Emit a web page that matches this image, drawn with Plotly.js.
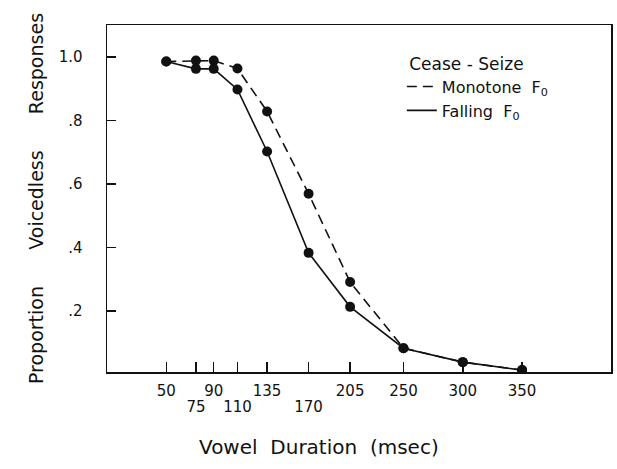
<!DOCTYPE html>
<html>
<head>
<meta charset="utf-8">
<script src="https://cdn.plot.ly/plotly-3.0.1.min.js"></script>
<style>
  html, body { margin: 0; padding: 0; background: #fff; }
  #chart { width: 617px; height: 469px; }
</style>
</head>
<body>
<div id="chart"></div>
<script>
// Vowel duration (msec) of each stimulus
const durations = [50, 75, 90, 110, 135, 170, 205, 250, 300, 350];
// Proportion of voiceless responses
const monotoneF0 = [0.985, 0.988, 0.988, 0.963, 0.828, 0.569, 0.291, 0.083, 0.039, 0.014];
const fallingF0  = [0.985, 0.962, 0.962, 0.897, 0.702, 0.383, 0.213, 0.083, 0.039, 0.014];

// Tick labels (staggered on two rows)
const xLabelsRow1 = [50, 90, 135, 205, 250, 300, 350];
const xLabelsRow2 = [75, 110, 170];
const yTickVals = [0.2, 0.4, 0.6, 0.8, 1.0];
const yTickText = ['.2', '.4', '.6', '.8', '1.0'];

const legendTitle = 'Cease - Seize';
const seriesNames = ['Monotone\u00A0\u00A0F<sub>0</sub>', 'Falling\u00A0\u00A0F<sub>0</sub>'];
const xTitle = 'Vowel\u00A0\u00A0Duration\u00A0\u00A0(msec)';
const GAP = '\u00A0'.repeat(6);
const yTitle = 'Proportion' + GAP + 'Voicedless' + GAP + 'Responses';

const FONT = 'DejaVu Sans, Liberation Sans, sans-serif';
const INK = '#111';

const traces = [
  {
    x: durations, y: monotoneF0, mode: 'lines+markers', xaxis: 'x', yaxis: 'y',
    line: {color: INK, width: 1.6, dash: '10px,6px'},
    marker: {color: INK, size: 10}, showlegend: false, name: seriesNames[0]
  },
  {
    x: durations, y: fallingF0, mode: 'lines+markers', xaxis: 'x2', yaxis: 'y',
    line: {color: INK, width: 1.6},
    marker: {color: INK, size: 10}, showlegend: false, name: seriesNames[1]
  },
  // legend keys (line samples only)
  { x: [null], y: [null], mode: 'lines', name: seriesNames[0],
    line: {color: INK, width: 1.6, dash: '10px,6px'} },
  { x: [null], y: [null], mode: 'lines', name: seriesNames[1],
    line: {color: INK, width: 1.6} }
];

const layout = {
  width: 617, height: 469,
  margin: {l: 107, r: 6, t: 25, b: 97},
  paper_bgcolor: '#fff', plot_bgcolor: '#fff',
  font: {family: FONT, color: INK, size: 15},
  xaxis: {
    range: [0, 425], showgrid: false, zeroline: false,
    showline: true, mirror: true, linecolor: INK, linewidth: 1.5,
    tickmode: 'array', tickvals: xLabelsRow1, ticktext: xLabelsRow1.map(String),
    ticks: 'inside', ticklen: 10, tickwidth: 1.5, tickcolor: INK,
    ticklabelstandoff: 4,
    tickfont: {size: 15, family: FONT, color: INK}
  },
  xaxis2: {
    overlaying: 'x', matches: 'x', anchor: 'y', side: 'bottom',
    range: [0, 425], showgrid: false, zeroline: false, showline: false,
    tickmode: 'array', tickvals: xLabelsRow2, ticktext: xLabelsRow2.map(String),
    ticks: 'inside', ticklen: 10, tickwidth: 1.5, tickcolor: INK,
    ticklabelstandoff: 24,
    tickfont: {size: 15, family: FONT, color: INK}
  },
  yaxis: {
    range: [0.008, 1.10], showgrid: false, zeroline: false,
    showline: true, mirror: true, linecolor: INK, linewidth: 1.5,
    tickmode: 'array', tickvals: yTickVals, ticktext: yTickText,
    ticks: 'inside', ticklen: 9, tickwidth: 1.5, tickcolor: INK,
    ticklabelstandoff: 20,
    tickfont: {size: 15, family: FONT, color: INK},
    title: {text: yTitle, font: {size: 19, family: FONT, color: INK}, standoff: 10}
  },
  legend: {
    x: 0.585, y: 0.935, xanchor: 'left', yanchor: 'top',
    bgcolor: 'rgba(0,0,0,0)', borderwidth: 0, tracegroupgap: 0,
    font: {size: 16, family: FONT, color: INK},
    title: {text: '\u00A0' + legendTitle, font: {size: 17, family: FONT, color: INK}},
    itemwidth: 30
  },
  annotations: [{
    text: xTitle, xref: 'paper', yref: 'paper',
    x: (319 - 107) / 504, y: -0.215, xanchor: 'center', yanchor: 'middle',
    showarrow: false, font: {size: 20, family: FONT, color: INK}
  }]
};

Plotly.newPlot('chart', traces, layout, {staticPlot: true});
</script>
</body>
</html>
